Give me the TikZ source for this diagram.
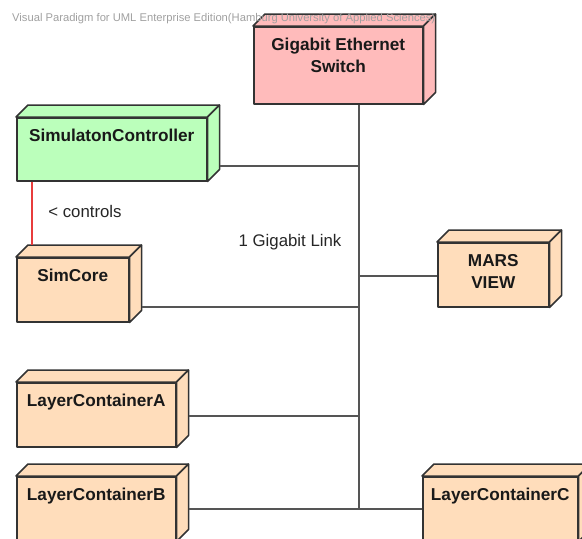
\documentclass[tikz,border=0pt]{standalone}
\usepackage{fontspec}
\setmainfont{Liberation Sans}
\definecolor{switchfill}{HTML}{FFBBBB}
\definecolor{ctrlfill}{HTML}{BBFFBB}
\definecolor{nodefill}{HTML}{FFDDBB}
\definecolor{edgegray}{HTML}{333333}
\definecolor{linkgray}{HTML}{555555}
\definecolor{ctrlred}{HTML}{E83C3C}
\definecolor{markgray}{HTML}{A0A0A0}

\tikzset{
  boxline/.style={draw=edgegray, line width=1.5pt, line join=round},
  boxface/.style={boxline, rectangle, inner sep=0pt, anchor=north west},
  boxtitle/.style={inner sep=0pt, align=center,
    font=\fontsize{17.2}{22}\selectfont\bfseries, text=black!90},
  link/.style={draw=linkgray, line width=1.5pt},
  plain/.style={inner sep=0pt, font=\fontsize{16.8}{20}\selectfont, text=black!85},
}

% deployment node: name, front-face corners (x1,y1) (x2,y2), fill, title
\newcommand\deploybox[7]{%
  \node[boxface, fill=#6, minimum width={(#4-#2)*1pt}, minimum height={(#5-#3)*1pt}]
    (#1) at (#2,#3) {};
  \filldraw[boxline, fill=#6] (#1.north west) -- ([shift={(12,-12)}]#1.north west)
    -- ([shift={(12,-12)}]#1.north east) -- (#1.north east) -- cycle;
  \filldraw[boxline, fill=#6] (#1.north east) -- ([shift={(12,-12)}]#1.north east)
    -- ([shift={(12,-12)}]#1.south east) -- (#1.south east) -- cycle;
  \node[boxtitle, anchor=north] (#1t) at ([yshift=-12pt]#1.north) {#7};
}

\begin{document}
\begin{tikzpicture}[x=1pt, y=-1pt]
\useasboundingbox (0,0) rectangle (582,539);
\clip (0,0) rectangle (582,539);

% nodes
\deploybox{sw}{253}{26}{422}{103}{switchfill}{Gigabit Ethernet\\Switch}
\deploybox{ctrl}{16}{117}{206}{180}{ctrlfill}{SimulatonController}
\deploybox{core}{16}{257}{128}{321}{nodefill}{SimCore}
\deploybox{mars}{437}{242}{548}{306}{nodefill}{MARS\\VIEW}
\deploybox{lca}{16}{382}{175}{446}{nodefill}{LayerContainerA}
\deploybox{lcb}{16}{476}{175}{540}{nodefill}{LayerContainerB}
\deploybox{lcc}{422}{476}{577}{540}{nodefill}{LayerContainerC}

% joints on the shared link
\coordinate (jctrl) at (359,166);
\coordinate (jmars) at (359,276);
\coordinate (jcore) at (359,307);
\coordinate (jlca) at (359,416);
\coordinate (jbus) at (359,509);

% 1 Gigabit bus
\draw[link] (sw.south -| jbus) -- (jbus);
\draw[link] ([xshift=12pt]ctrl.east |- jctrl) -- (jctrl);
\draw[link] (mars.west |- jmars) -- (jmars);
\draw[link] ([xshift=12pt]core.east |- jcore) -- (jcore);
\draw[link] ([xshift=12pt]lca.east |- jlca) -- (jlca);
\draw[link] ([xshift=12pt]lcb.east |- jbus) -- (lcc.west |- jbus);

\node[plain] (linklbl) at (290,242) {1 Gigabit Link};

% controls association
\draw[draw=ctrlred, line width=1.4pt] ([xshift=16pt]ctrl.south west)
  -- ([shift={(16,-12)}]core.north west);
\node[plain] (ctrllbl) at (85,211) {< controls};

% edition stamp
\node[anchor=west, inner sep=0pt, text=markgray,
  font=\fontsize{11.2}{13}\selectfont] (stamp) at (12,19)
  {Visual Paradigm for UML Enterprise Edition(Hamburg University of Applied Sciences)};
\end{tikzpicture}
\end{document}
